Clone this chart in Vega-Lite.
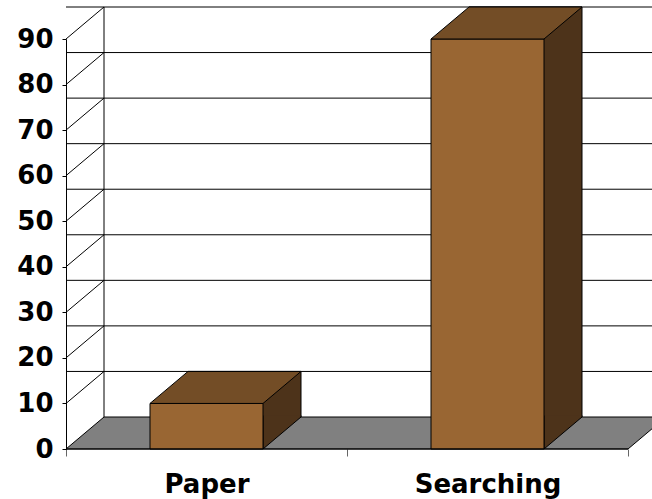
{
  "$schema": "https://vega.github.io/schema/vega-lite/v6.json",
  "width": 562,
  "height": 410,
  "autosize": {"type": "none"},
  "padding": {"left": 66, "top": 39, "right": 24, "bottom": 50},
  "background": "white",
  "config": {
    "view": {"stroke": null},
    "font": "DejaVu Sans",
    "axis": {
      "labelFont": "DejaVu Sans",
      "labelFontSize": 26,
      "labelFontWeight": "bold",
      "labelColor": "black",
      "domainColor": "black",
      "domainWidth": 1,
      "tickWidth": 1,
      "grid": false,
      "title": null
    }
  },
  "datasets": {
    "bars": [
      {"category": "Paper", "value": 10},
      {"category": "Searching", "value": 90}
    ],
    "gridlines": [
      {"v": 10}, {"v": 20}, {"v": 30}, {"v": 40}, {"v": 50},
      {"v": 60}, {"v": 70}, {"v": 80}, {"v": 90}
    ]
  },
  "encoding": {
    "x": {
      "field": "category",
      "type": "nominal",
      "sort": null,
      "scale": {"paddingInner": 0, "paddingOuter": 0},
      "axis": {
        "labelAngle": 0,
        "tickBand": "extent",
        "tickSize": 7,
        "tickColor": "#666",
        "labelPadding": 15,
        "domain": false
      }
    },
    "y": {
      "type": "quantitative",
      "scale": {"domain": [0, 90], "nice": false, "zero": true},
      "axis": {
        "values": [0, 10, 20, 30, 40, 50, 60, 70, 80, 90],
        "tickSize": 4,
        "tickColor": "black",
        "labelPadding": 9
      }
    }
  },
  "layer": [
    {
      "description": "floor of the 3-D plot",
      "data": {"values": [{"v": 0}]},
      "mark": {
        "type": "point",
        "shape": "M0,0L38,-32L600,-32L562,0Z",
        "size": 4,
        "filled": true,
        "fill": "#808080",
        "stroke": "black",
        "strokeWidth": 1,
        "opacity": 1
      },
      "encoding": {
        "x": {"datum": "Paper", "bandPosition": 0},
        "y": {"field": "v"}
      }
    },
    {
      "description": "gridlines on the back wall",
      "data": {"name": "gridlines"},
      "mark": {
        "type": "rule",
        "color": "black",
        "strokeWidth": 1,
        "xOffset": 38,
        "x2Offset": 38,
        "yOffset": -32
      },
      "encoding": {"x": null, "y": {"field": "v"}}
    },
    {
      "description": "diagonals on the left side wall",
      "data": {"name": "gridlines"},
      "mark": {
        "type": "point",
        "shape": "M0,0L38,-32",
        "size": 4,
        "filled": false,
        "stroke": "black",
        "strokeWidth": 1,
        "opacity": 1
      },
      "encoding": {
        "x": {"datum": "Paper", "bandPosition": 0},
        "y": {"field": "v"}
      }
    },
    {
      "description": "back edge of the left side wall",
      "data": {"values": [{"lo": 0, "hi": 90}]},
      "mark": {
        "type": "rule",
        "color": "black",
        "strokeWidth": 1,
        "xOffset": 38,
        "yOffset": -32,
        "y2Offset": -32
      },
      "encoding": {
        "x": {"datum": "Paper", "bandPosition": 0},
        "y": {"field": "lo"},
        "y2": {"field": "hi"}
      }
    },
    {
      "description": "rear face of each column (shows as the shaded side)",
      "data": {"name": "bars"},
      "mark": {
        "type": "bar",
        "width": 113,
        "xOffset": 38,
        "yOffset": -32,
        "y2Offset": -32,
        "fill": "#4D331A",
        "stroke": "black",
        "strokeWidth": 1
      },
      "encoding": {"y": {"field": "value"}}
    },
    {
      "description": "lower corner of the shaded side",
      "data": {"name": "bars"},
      "mark": {
        "type": "point",
        "shape": "M56.5,-33.5L56.5,0L94.5,-32L94.5,-33.5",
        "size": 4,
        "filled": true,
        "fill": "#4D331A",
        "stroke": "black",
        "strokeWidth": 1,
        "opacity": 1
      },
      "encoding": {"y": {"datum": 0}}
    },
    {
      "description": "front face of each column",
      "data": {"name": "bars"},
      "mark": {
        "type": "bar",
        "width": 113,
        "fill": "#996633",
        "stroke": "black",
        "strokeWidth": 1
      },
      "encoding": {"y": {"field": "value"}}
    },
    {
      "description": "top face of each column",
      "data": {"name": "bars"},
      "mark": {
        "type": "point",
        "shape": "M-56.5,0L56.5,0L94.5,-32L-18.5,-32Z",
        "size": 4,
        "filled": true,
        "fill": "#734D26",
        "stroke": "black",
        "strokeWidth": 1,
        "opacity": 1
      },
      "encoding": {"y": {"field": "value"}}
    },
    {
      "description": "front edge of the floor",
      "data": {"values": [{"v": 0}]},
      "mark": {"type": "rule", "color": "black", "strokeWidth": 1},
      "encoding": {"x": null, "y": {"field": "v"}}
    }
  ]
}
